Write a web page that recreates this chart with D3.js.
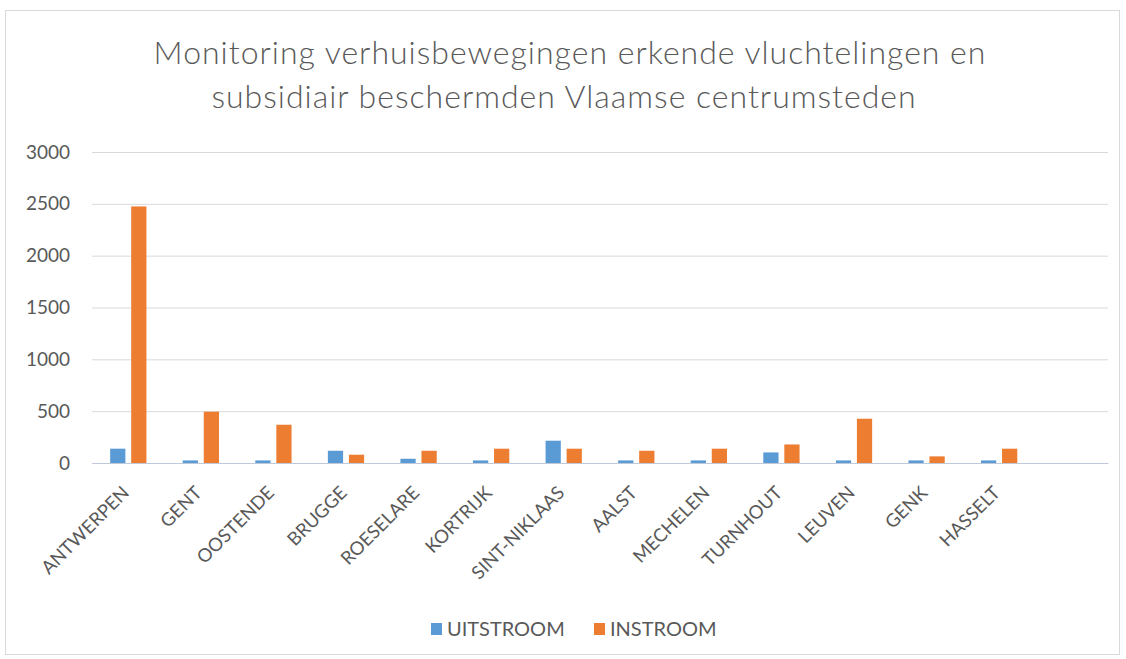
<!DOCTYPE html>
<html>
<head>
<meta charset="utf-8">
<script src="https://cdn.jsdelivr.net/npm/d3@7"></script>
<style>
  body { margin: 0; background: #fff; }
  svg { display: block; font-family: Lato, "Open Sans", sans-serif; }
</style>
</head>
<body>
<div id="chart"></div>
<script>
'use strict';

// data
var cities = ['ANTWERPEN', 'GENT', 'OOSTENDE', 'BRUGGE', 'ROESELARE', 'KORTRIJK', 'SINT-NIKLAAS',
              'AALST', 'MECHELEN', 'TURNHOUT', 'LEUVEN', 'GENK', 'HASSELT', ''];
var uitstroom = [138, 25, 25, 118, 41, 25, 215, 25, 25, 102, 25, 25, 25, null];
var instroom  = [2475, 495, 369, 80, 118, 138, 138, 118, 138, 179, 427, 64, 138, null];
var yTicks = [0, 500, 1000, 1500, 2000, 2500, 3000];
var seriesNames = ['UITSTROOM', 'INSTROOM'];
var seriesColors = ['#5B9BD5', '#ED7D31'];

//configuration variables
var config = {};
config.width  = 1126;
config.height = 659;
config.left   = 92;
config.right  = 1108;
config.top    = 152;
config.bottom = 463;

var svg = d3.select('#chart')
    .append('svg')
    .attr('width', config.width)
    .attr('height', config.height);

// chart border
svg.append('rect')
    .attr('x', 5.5).attr('y', 10.5)
    .attr('width', 1114).attr('height', 644)
    .attr('fill', '#fff')
    .attr('stroke', '#d9d9d9');

// title
var title = svg.append('text')
    .attr('text-anchor', 'middle')
    .attr('fill', '#595959')
    .style('font-size', '32px')
    .style('font-weight', 300)
    .style('letter-spacing', '1px');
title.append('tspan').attr('x', 570).attr('y', 64)
    .text('Monitoring verhuisbewegingen erkende vluchtelingen en');
title.append('tspan').attr('x', 564).attr('y', 108)
    .text('subsidiair beschermden Vlaamse centrumsteden');

var x = d3.scaleBand()
    .domain(d3.range(cities.length))
    .range([config.left, config.right])
    .padding(0);

var y = d3.scaleLinear()
    .domain([0, 3000])
    .range([config.bottom, config.top]);

// gridlines + y labels
var yAxis = d3.axisLeft(y)
    .tickValues(yTicks)
    .tickFormat(d3.format('d'))
    .tickSize(-(config.right - config.left))
    .tickPadding(22);

var gy = svg.append('g')
    .attr('transform', 'translate(' + config.left + ',0)')
    .call(yAxis);
gy.select('.domain').remove();
gy.selectAll('line').attr('stroke', '#d9d9d9');
gy.selectAll('text')
    .attr('fill', '#595959')
    .style('font-size', '19px')
    .style('font-family', 'Lato, "Open Sans", sans-serif');

// bars
var bw = x.bandwidth();
var barW = bw * 0.21;
var gap = bw * 0.04;
var series = [uitstroom, instroom];

series.forEach(function(vals, s){
    svg.append('g')
        .selectAll('rect')
        .data(vals)
        .enter()
        .filter(function(d){ return d != null; })
            .append('rect')
            .attr('x', function(d, i){
                var c = x(i) + bw / 2;
                return s == 0 ? c - gap - barW : c + gap;
            })
            .attr('width', barW)
            .attr('y', function(d){ return y(d); })
            .attr('height', function(d){ return y(0) - y(d); })
            .attr('fill', seriesColors[s]);
});

// category axis
var xAxis = d3.axisBottom(x)
    .tickSize(0)
    .tickFormat(function(i){ return cities[i]; });

var gx = svg.append('g')
    .attr('transform', 'translate(0,' + config.bottom + ')')
    .call(xAxis);
gx.select('.domain').attr('stroke', '#bfc9d9');
gx.selectAll('text')
    .attr('fill', '#595959')
    .style('font-size', '18.5px')
    .style('font-family', 'Lato, "Open Sans", sans-serif')
    .attr('text-anchor', 'end')
    .attr('x', 0).attr('y', 0).attr('dy', 0)
    .attr('transform', 'translate(2,31) rotate(-45)');

// legend
var legend = svg.append('g')
    .attr('transform', 'translate(431,629)');
var legendX = [0, 163];
seriesNames.forEach(function(name, i){
    var item = legend.append('g').attr('transform', 'translate(' + legendX[i] + ',0)');
    item.append('rect')
        .attr('x', 0).attr('y', -6)
        .attr('width', 11).attr('height', 12)
        .attr('fill', seriesColors[i]);
    item.append('text')
        .attr('x', 16).attr('y', 0)
        .attr('dy', '0.35em')
        .attr('fill', '#595959')
        .style('font-size', '20px')
        .text(name);
});
</script>
</body>
</html>
